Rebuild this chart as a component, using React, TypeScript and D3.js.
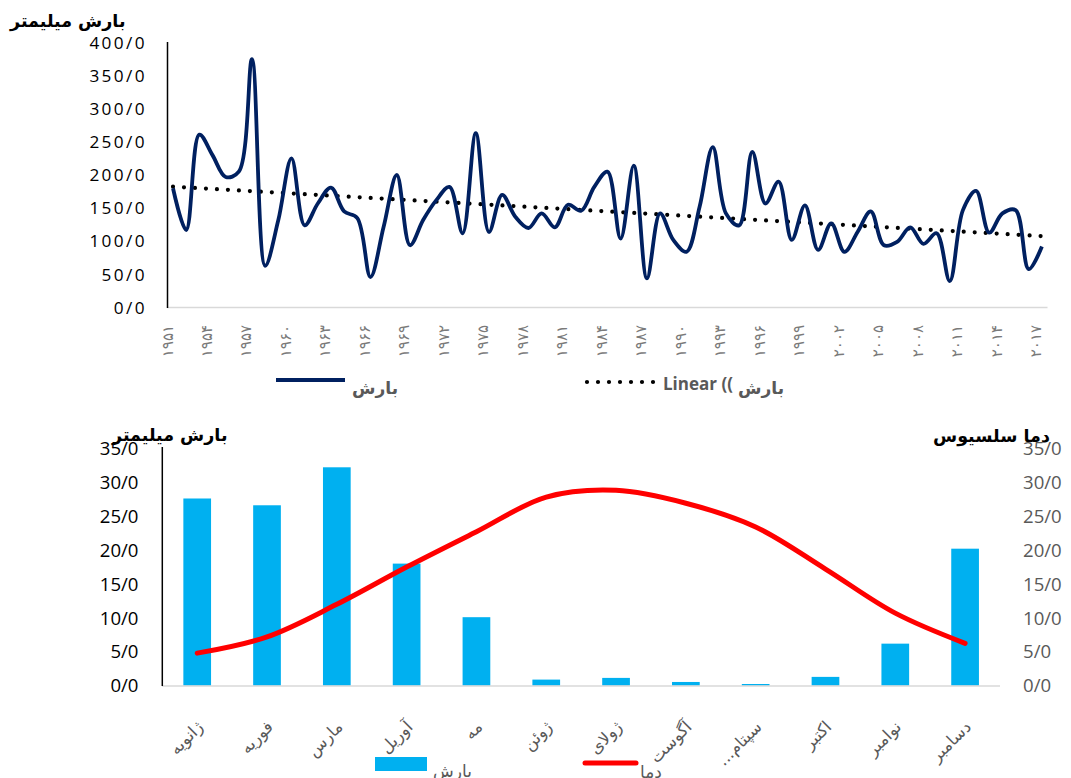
import React from 'react';
import * as d3 from 'd3';

// Annual precipitation (mm), one value per year starting at firstYear
const firstYear = 1951;
const rainfall = [
  180, 117, 261, 230, 197, 205, 375, 63, 132, 225,
  124, 157, 181, 145, 135, 46, 122, 200, 94, 132,
  162, 182, 112, 263, 114, 170, 137, 120, 142, 121,
  155, 146, 182, 205, 104, 214, 44, 142, 102, 84,
  152, 242, 142, 124, 235, 157, 190, 102, 154, 87,
  127, 84, 114, 145, 94, 99, 121, 96, 112, 40,
  147, 176, 113, 142, 147, 58, 92,
];
const yearLabelStep = 3;
const annualTicks = [0, 50, 100, 150, 200, 250, 300, 350, 400];

// Monthly climate: precipitation bars and mean temperature line
const months = [
  'ژانویه', 'فوریه', 'مارس', 'آوریل', 'مه', 'ژوئن',
  'ژولای', 'آگوست', 'سپتام...\u200F', 'اکتبر', 'نوامبر', 'دسامبر',
];
const monthlyRain = [27.6, 26.6, 32.2, 18.0, 10.1, 0.9, 1.15, 0.55, 0.25, 1.3, 6.2, 20.2];
const monthlyTemp = [4.8, 7.2, 12.0, 17.5, 22.7, 27.8, 28.8, 26.9, 23.4, 17.2, 10.7, 6.25];
const monthlyTicks = [0, 5, 10, 15, 20, 25, 30, 35];

const NUM_FONT = '"Open Sans", sans-serif';
const FA_FONT = '"DejaVu Sans", sans-serif';
const faDigits = '۰۱۲۳۴۵۶۷۸۹';
const toFa = (s: string) => s.replace(/\d/g, (d) => faDigits[+d]);
const tickFmt = (v: number) => d3.format('.1f')(v).replace('.0', '/0');

export default function App() {
  const W = 1071;
  const H = 778;

  // ---------- annual chart ----------
  const years = rainfall.map((_, i) => firstYear + i);
  const x1 = d3.scalePoint<number>().domain(years).range([173, 1041.9]);
  const y1 = d3.scaleLinear().domain([0, 400]).range([307.5, 42.5]);
  const rainLine = d3
    .line<number>()
    .x((_, i) => x1(years[i]) as number)
    .y((d) => y1(d))
    .curve(d3.curveCatmullRom.alpha(0.5));

  // least-squares trend of rainfall against year
  const mx = d3.mean(years) as number;
  const my = d3.mean(rainfall) as number;
  const slope =
    d3.sum(years, (yr, i) => (yr - mx) * (rainfall[i] - my)) /
    d3.sum(years, (yr) => (yr - mx) ** 2);
  const trend = (yr: number) => my + slope * (yr - mx);
  const y0Year = years[0];
  const yNYear = years[years.length - 1];

  // ---------- monthly chart ----------
  const y2 = d3.scaleLinear().domain([0, 35]).range([685.7, 448.3]);
  const y2r = d3.scaleLinear().domain([0, 35]).range([685.7, 448.3]);
  const xMonth = d3.scalePoint<string>().domain(months).range([162.3, 1000]).padding(0.5);
  const cx = (m: string) => xMonth(m) as number;
  const barW = 27.7;
  const tempLine = d3
    .line<number>()
    .x((_, i) => cx(months[i]))
    .y((d) => y2r(d))
    .curve(d3.curveCatmullRom.alpha(0.5));

  return (
    <svg
      width={W}
      height={H}
      viewBox={`0 0 ${W} ${H}`}
      style={{ position: 'absolute', left: 0, top: 0, background: '#fff' }}
    >
      {/* ===== annual precipitation ===== */}
      <text x={10} y={27} fontFamily={FA_FONT} fontWeight="bold" fontSize={17.5} fill="#000">
        بارش میلیمتر
      </text>
      {annualTicks.map((t) => (
        <text
          key={t}
          x={147}
          y={y1(t)}
          dy="0.36em"
          textAnchor="end"
          fontFamily={NUM_FONT}
          fontSize={17.2}
          letterSpacing={2.4}
          fill="#000"
        >
          {tickFmt(t)}
        </text>
      ))}
      <line x1={167} x2={1047.5} y1={307.5} y2={307.5} stroke="#d9d9d9" strokeWidth={1.5} />
      <line x1={167.5} x2={167.5} y1={42} y2={308} stroke="#000" strokeWidth={1.5} />

      {years
        .filter((_, i) => i % yearLabelStep === 0)
        .map((yr) => (
          <text
            key={yr}
            transform={`translate(${(x1(yr) as number) - 0.5},${325}) rotate(-90)`}
            textAnchor="end"
            fontFamily={FA_FONT}
            fontSize={15}
            fill="#7a7a7a"
          >
            {toFa(String(yr))}
          </text>
        ))}

      <line
        x1={x1(y0Year)}
        x2={x1(yNYear)}
        y1={y1(trend(y0Year))}
        y2={y1(trend(yNYear))}
        stroke="#000"
        strokeWidth={4.2}
        strokeLinecap="round"
        strokeDasharray="0 11"
      />
      <path d={rainLine(rainfall) ?? ''} fill="none" stroke="#002060" strokeWidth={3.8} strokeLinejoin="round" />

      {/* legend */}
      <line x1={276} x2={345} y1={380} y2={380} stroke="#002060" strokeWidth={4} />
      <text x={352} y={394} fontFamily={FA_FONT} fontWeight="bold" fontSize={17} fill="#595959">
        بارش
      </text>
      <line x1={587} x2={660} y1={382} y2={382} stroke="#000" strokeWidth={4.2} strokeLinecap="round" strokeDasharray="0 11" />
      <text x={663} y={390} fontFamily={NUM_FONT} fontWeight="bold" fontSize={17} fill="#595959">
        Linear ((
      </text>
      <text x={738} y={394} fontFamily={FA_FONT} fontWeight="bold" fontSize={17} fill="#595959">
        بارش
      </text>

      {/* ===== monthly climate ===== */}
      {monthlyTicks.map((t) => (
        <text key={`l${t}`} x={138.5} y={y2(t)} dy="0.36em" textAnchor="end" fontFamily={NUM_FONT} fontSize={18.6} fill="#000">
          {tickFmt(t)}
        </text>
      ))}
      {monthlyTicks.map((t) => (
        <text key={`r${t}`} x={1023} y={y2r(t)} dy="0.36em" fontFamily={NUM_FONT} fontSize={18.6} fill="#595959">
          {tickFmt(t)}
        </text>
      ))}
      <text x={112} y={441} fontFamily={FA_FONT} fontWeight="bold" fontSize={17.5} fill="#000">
        بارش میلیمتر
      </text>
      <text x={933} y={442} fontFamily={FA_FONT} fontWeight="bold" fontSize={17.5} fill="#000">
        دما سلسیوس
      </text>

      {months.map((m, i) => (
        <rect
          key={m}
          x={cx(m) - barW / 2}
          width={barW}
          y={y2(monthlyRain[i])}
          height={y2(0) - y2(monthlyRain[i])}
          fill="#00b0f0"
        />
      ))}
      <line x1={162} x2={1000} y1={686} y2={686} stroke="#d9d9d9" strokeWidth={1.5} />
      <line x1={162.3} x2={162.3} y1={447} y2={686} stroke="#000" strokeWidth={1.5} />

      <path
        d={tempLine(monthlyTemp) ?? ''}
        fill="none"
        stroke="#ff0000"
        strokeWidth={5}
        strokeLinecap="round"
        strokeLinejoin="round"
      />

      {months.map((m) => (
        <text
          key={`t${m}`}
          transform={`translate(${cx(m) + 7},${728}) rotate(-45)`}
          textAnchor="end"
          fontFamily={FA_FONT}
          fontSize={16.5}
          fill="#595959"
        >
          {m}
        </text>
      ))}

      {/* legend */}
      <rect x={375} y={757} width={52} height={14} fill="#00b0f0" />
      <text x={433} y={777} fontFamily={FA_FONT} fontSize={17} fill="#595959">
        بارش
      </text>
      <line x1={585} x2={636} y1={763} y2={763} stroke="#ff0000" strokeWidth={5} strokeLinecap="round" />
      <text x={640} y={778} fontFamily={FA_FONT} fontSize={17} fill="#595959">
        دما
      </text>
    </svg>
  );
}
